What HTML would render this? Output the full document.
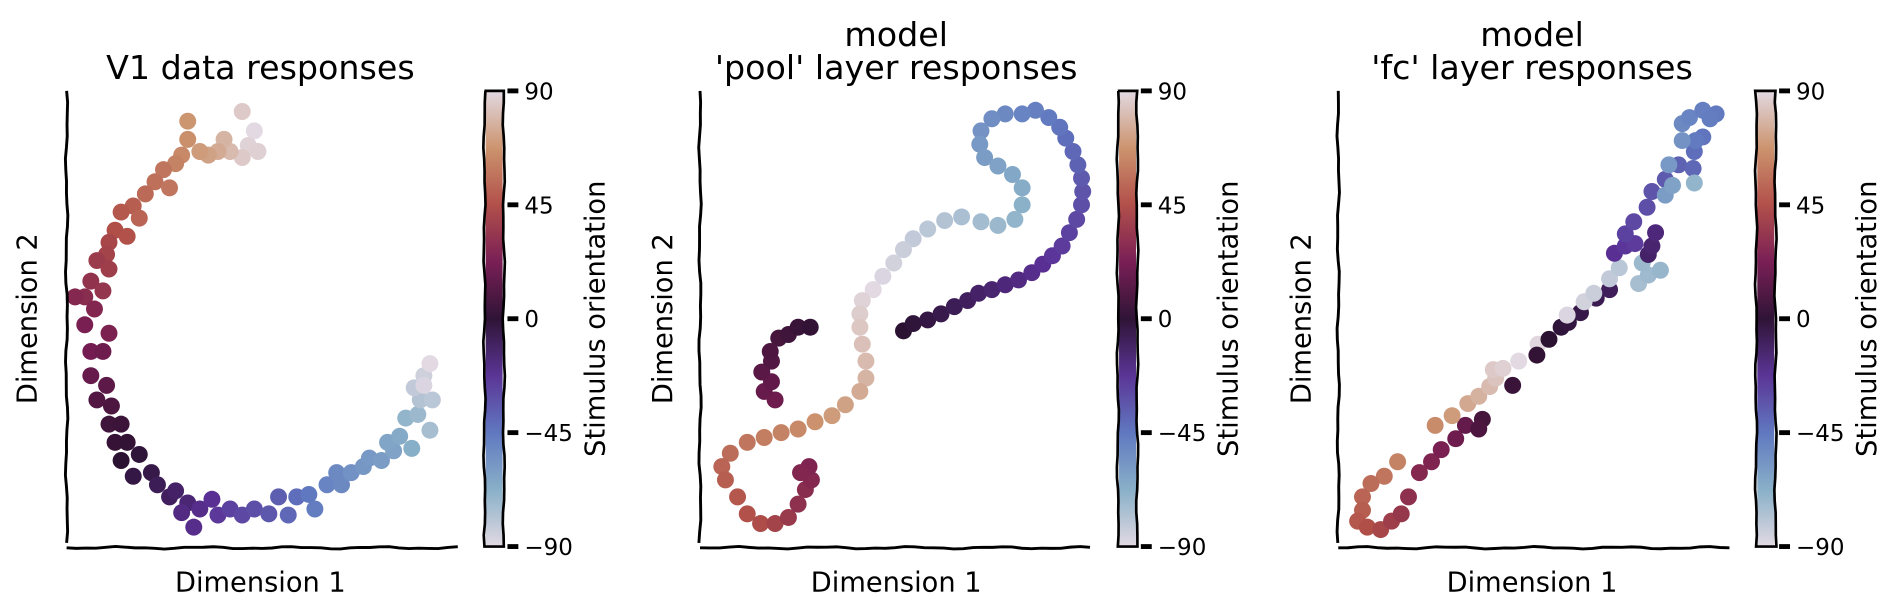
<!DOCTYPE html>
<html><head><meta charset="utf-8"><style>
html,body{margin:0;padding:0;background:#fff;}
svg{display:block;font-family:"DejaVu Sans","Liberation Sans",sans-serif;}
</style></head><body>
<svg id="fig" width="1899" height="612" viewBox="0 0 1568 505" preserveAspectRatio="none" xmlns="http://www.w3.org/2000/svg">
<defs>
<linearGradient id="cmap" x1="0" y1="1" x2="0" y2="0">
<stop offset="0" stop-color="#e2d9e2"/><stop offset="0.125" stop-color="#89b0c8"/>
<stop offset="0.25" stop-color="#6078c0"/><stop offset="0.375" stop-color="#5b3596"/>
<stop offset="0.5" stop-color="#2f1436"/><stop offset="0.625" stop-color="#7a1f56"/>
<stop offset="0.75" stop-color="#b2504a"/><stop offset="0.875" stop-color="#cc946e"/>
<stop offset="1" stop-color="#e2d9e2"/></linearGradient>
</defs>
</svg>
<script>
// ---- data: [dim1, dim2, orientation] ----
const v1Points = [[200,92,85],[210,108,90],[205,120,88],[213,125,87],[200,130,85],[190,125,80],[185,115,78],[180,125,75],[172,128,72],[165,125,70],[155,100,68],[155,115,66],[150,128,64],[145,135,62],[135,140,58],[128,150,56],[140,155,58],[120,160,54],[110,170,50],[100,175,48],[115,180,52],[95,190,45],[90,200,42],[105,195,46],[88,210,40],[80,215,37],[90,222,38],[75,232,33],[85,240,34],[70,245,30],[78,255,27],[62,245,28],[90,275,25],[70,268,24],[75,290,22],[85,290,20],[75,310,18],[88,318,15],[80,330,12],[92,335,10],[90,350,6],[100,350,5],[95,365,3],[105,365,2],[100,380,0],[115,375,-2],[110,393,-4],[125,390,-5],[130,400,-8],[140,410,-10],[145,405,-12],[155,415,-15],[150,423,-18],[165,420,-20],[175,412,-22],[160,435,-20],[180,425,-25],[190,420,-28],[200,425,-30],[210,420,-32],[222,424,-35],[230,410,-37],[238,425,-40],[245,410,-42],[255,408,-45],[260,420,-47],[270,400,-50],[282,400,-52],[278,390,-52],[290,390,-55],[300,385,-57],[305,378,-58],[315,380,-60],[325,372,-62],[320,365,-63],[330,360,-65],[340,370,-67],[335,345,-70],[345,342,-72],[355,355,-75],[347,330,-78],[357,330,-80],[342,320,-82],[350,310,-85],[355,300,-90],[350,318,-88]];
const poolPoints = [[746,273,0],[754,267,-2],[766,264,-4],[777,259,-6],[788,253,-8],[799,248,-10],[808,242,-12],[819,239,-14],[830,235,-16],[841,231,-18],[852,225,-20],[861,218,-22],[869,211,-24],[877,203,-26],[883,192,-28],[889,181,-30],[893,169,-32],[894,158,-34],[893,147,-36],[890,136,-38],[886,125,-40],[880,114,-42],[875,105,-44],[866,97,-46],[855,91,-48],[844,94,-50],[830,94,-52],[819,98,-54],[810,108,-56],[809,119,-58],[813,130,-60],[824,137,-62],[836,144,-64],[844,155,-66],[844,169,-68],[838,181,-70],[824,186,-72],[810,183,-74],[794,179,-76],[780,182,-78],[766,189,-80],[754,197,-82],[746,206,-84],[738,217,-86],[729,228,-88],[721,239,-90],[712,248,88],[710,259,86],[710,270,84],[712,284,82],[715,298,80],[715,312,78],[710,323,75],[698,334,72],[687,343,70],[673,348,67],[659,354,64],[645,357,62],[631,361,60],[617,365,58],[603,374,55],[596,385,52],[599,396,50],[609,410,48],[617,424,46],[628,432,44],[640,432,40],[651,427,36],[659,416,32],[665,404,30],[670,396,28],[668,385,26],[661,390,27],[640,330,20],[631,323,18],[637,315,16],[629,307,14],[637,298,12],[636,290,10],[643,279,8],[651,276,6],[659,270,4],[669,270,2]];
const fcPoints = [[1154,381,62],[1143,393,58],[1132,399,55],[1125,410,52],[1125,421,50],[1121,430,48],[1129,435,45],[1140,437,42],[1149,430,38],[1157,424,35],[1163,410,32],[1172,390,28],[1182,381,26],[1190,371,24],[1202,362,20],[1210,351,17],[1224,346,8],[1221,354,10],[1185,351,65],[1199,343,70],[1212,333,74],[1221,327,77],[1230,319,80],[1235,312,83],[1233,305,85],[1241,304,87],[1254,298,90],[1270,284,89],[1249,318,4],[1269,293,2],[1279,280,0],[1289,270,-2],[1295,266,-3],[1305,258,-5],[1318,246,-7],[1329,239,-9],[1294,260,-88],[1308,249,-86],[1316,242,-84],[1329,230,-82],[1337,221,-80],[1353,234,-75],[1361,227,-73],[1371,223,-71],[1356,217,-72],[1361,210,-12],[1364,203,-14],[1367,192,-16],[1333,209,-22],[1342,203,-24],[1350,201,-26],[1342,193,-28],[1349,183,-30],[1360,171,-32],[1364,158,-34],[1375,148,-36],[1386,136,-38],[1398,139,-40],[1399,125,-42],[1406,113,-44],[1400,116,-46],[1375,161,-60],[1381,153,-62],[1378,136,-58],[1389,116,-56],[1399,151,-70],[1389,102,-52],[1395,97,-50],[1406,91,-48],[1417,94,-46],[1412,98,-47]];
const cbTicks = [90,45,0,-45,-90];
const cbTickLabels = ["90","45","0","\u221245","\u221290"];
const titles = [["V1 data responses"],["model","'pool' layer responses"],["model","'fc' layer responses"]];

const svg = document.getElementById('fig');
const NS = 'http://www.w3.org/2000/svg';
function mk(tag, attrs, parent){const e=document.createElementNS(NS,tag);for(const k in attrs)e.setAttribute(k,attrs[k]);(parent||svg).appendChild(e);return e;}
const stops=[[-90,[226,217,226]],[-67.5,[137,176,200]],[-45,[96,120,192]],[-22.5,[91,48,150]],[0,[44,18,50]],[22.5,[118,28,82]],[45,[176,78,72]],[67.5,[204,148,110]],[90,[226,217,226]]];
function cmap(v){v=Math.max(-90,Math.min(90,v));for(let i=0;i<stops.length-1;i++){const a=stops[i],b=stops[i+1];if(v<=b[0]){const t=(v-a[0])/(b[0]-a[0]);const c=a[1].map((x,j)=>Math.round(x+(b[1][j]-x)*t));return `rgb(${c})`;}}return 'rgb(226,217,226)';}
function wavy(x1,y1,x2,y2,amp,seed){let d=`M${x1},${y1}`;const n=40;for(let i=1;i<=n;i++){const t=i/n;const w=amp*Math.sin(t*Math.PI*9+seed)*0.8+amp*0.4*Math.sin(t*Math.PI*23+seed*2);const x=x1+(x2-x1)*t,y=y1+(y2-y1)*t;d+=` L${(x+(x1===x2?w:0)).toFixed(2)},${(y+(y1===y2?w:0)).toFixed(2)}`;}return d;}

const panels=[
 {pts:v1Points,x0:55,x1:378,yTop:75,yBot:452,dom:[[55,378],[75,452]],cb:400,cx:215,ylab:30,cblab:499,name:'v1'},
 {pts:poolPoints,x0:578,x1:900,yTop:75,yBot:452,dom:[[578,900],[75,452]],cb:923,cx:740,ylab:555,cblab:1022,name:'pool'},
 {pts:fcPoints,x0:1105,x1:1428,yTop:75,yBot:452,dom:[[1105,1428],[75,452]],cb:1450,cx:1265,ylab:1082,cblab:1549,name:'fc'}];

panels.forEach((p,pi)=>{
 const g=mk('g',{});
 
 
 const sx=v=>p.x0+(v-p.dom[0][0])/(p.dom[0][1]-p.dom[0][0])*(p.x1-p.x0);
 const sy=v=>p.yTop+(v-p.dom[1][0])/(p.dom[1][1]-p.dom[1][0])*(p.yBot-p.yTop);
 const pg=mk('g',{},g);
 
 
 p.pts.forEach(d=>{const c=mk('circle',{cx:sx(d[0]),cy:sy(d[1]),r:7,fill:cmap(d[2])},pg);
  
  });
 const ys=mk('path',{d:wavy(p.x0,p.yTop,p.x0,p.yBot-4,0.9,pi),stroke:'#000','stroke-width':2.4,fill:'none'},g);
 
 
 const xs=mk('path',{d:wavy(p.x0,p.yBot,p.x1,p.yBot,0.9,pi+1),stroke:'#000','stroke-width':2.4,fill:'none'},g);
 
 
 const tl=titles[pi];
 tl.forEach((t,i)=>{const tt=mk('text',{x:p.cx,y:65-(tl.length-1-i)*27,'text-anchor':'middle','font-size':27.5},g);tt.textContent=t;
  
  });
 const xl=mk('text',{x:p.cx,y:488,'text-anchor':'middle','font-size':22.5},g);xl.textContent='Dimension 1';
 
 
 const yl=mk('text',{x:0,y:0,'text-anchor':'middle','font-size':22.5,transform:`translate(${p.ylab},263) rotate(-90)`},g);yl.textContent='Dimension 2';
 
 
 const cg=mk('g',{},g);
 
 
 mk('rect',{x:p.cb+1,y:75,width:14,height:376,fill:'url(#cmap)'},cg);
 const cbTop=75,cbBot=451;
 const cy=v=>cbBot-(v+90)/180*(cbBot-cbTop);
 mk('path',{d:`M${p.cb},${cbTop} L${p.cb+16},${cbTop} `+wavy(p.cb+16,cbTop,p.cb+16,cbBot,0.8,pi+3).replace(/^M[^L]*/,'')+` L${p.cb},${cbBot} `+wavy(p.cb,cbBot,p.cb,cbTop,0.8,pi+5).replace(/^M[^L]*/,'')+' Z',stroke:'#000','stroke-width':2.2,fill:'none'},cg);
 cbTicks.forEach((t,i)=>{mk('rect',{x:p.cb+19,y:cy(t)-2,width:9,height:4,fill:'#000'},cg);
  const tx=mk('text',{x:p.cb+33,y:cy(t)+7,'font-size':19},cg);tx.textContent=cbTickLabels[i];
  
  });
 const cl=mk('text',{x:0,y:0,'text-anchor':'middle','font-size':22.5,transform:`translate(${p.cblab},263) rotate(-90)`},cg);cl.textContent='Stimulus orientation';
 
 
});
</script>
</body></html>
